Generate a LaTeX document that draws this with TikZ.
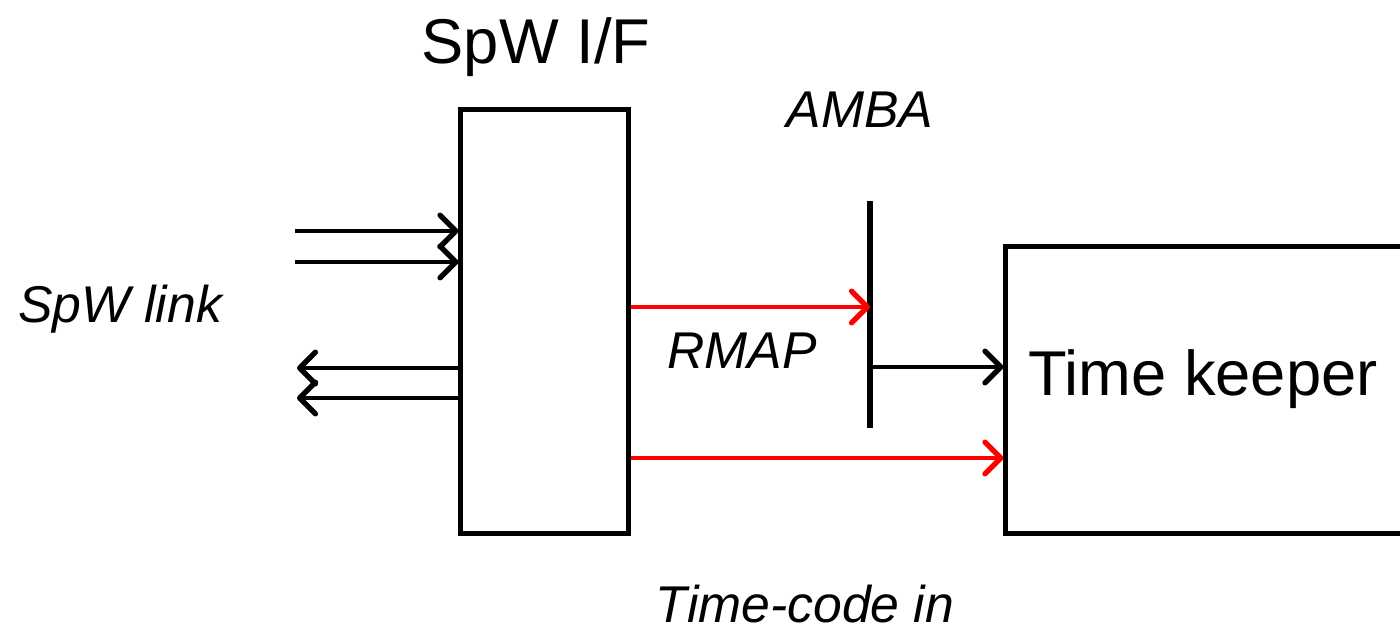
\documentclass[tikz,border=0pt]{standalone}
\usepackage{fontspec}
\setmainfont{Liberation Sans}
\usetikzlibrary{arrows.meta}
\definecolor{rmapred}{RGB}{255,0,0}
\tikzset{tkdiag/.style={x=0.01cm,y=-0.01cm},
  blk/.style={draw,line width=1.4pt,inner sep=0pt},
  lnk/.style={line width=1.3pt,-{Straight Barb[length=4.5pt,width=9pt,line width=1.5pt,round]}},
  bus/.style={line width=1.7pt},
  big/.style={font=\fontsize{18}{21}\selectfont,anchor=base},
  lbl/.style={font=\fontsize{14.7}{17}\selectfont\itshape,anchor=base}}

\begin{document}
\begin{tikzpicture}[tkdiag]
    \useasboundingbox (0,0) rectangle (1400,630);
    % blocks
    \node[blk,minimum width=1.67cm,minimum height=4.23cm] (spwif) at (544.5,321.5) {};
    \node[blk,minimum width=3.97cm,minimum height=2.86cm] (tk) at (1204.5,390) {};
    \node[big] (spwiflbl) at (536,63) {SpW I/F};
    \node[big] (tklbl) at (1203,395) {Time keeper};
    % AMBA bus
    \coordinate (ambatop) at (870,201);
    \coordinate (ambabot) at (870,428);
    \draw[bus] (ambatop) -- (ambabot);
    % SpW link
    \coordinate (in1) at (295,231);
    \coordinate (in2) at (295,262);
    \coordinate (out1) at (297,368);
    \coordinate (out2) at (297,398);
    \draw[lnk] (in1) -- (in1 -| spwif.west);
    \draw[lnk] (in2) -- (in2 -| spwif.west);
    \draw[lnk] (out1 -| spwif.west) -- (out1);
    \draw[lnk] (out2 -| spwif.west) -- (out2);
    % RMAP, bus and time-codes
    \draw[lnk,rmapred] (spwif.east |- 0,307) -- (ambatop |- 0,307);
    \draw[lnk] (ambatop |- 0,367) -- (tk.west |- 0,367);
    \draw[lnk,rmapred] (spwif.east |- 0,458) -- (tk.west |- 0,458);
    % labels
    \node[lbl] (ambalbl) at (860,127) {AMBA};
    \node[lbl] (linklbl) at (120,322) {SpW link};
    \node[lbl] (rmaplbl) at (742,368) {RMAP};
    \node[lbl] (tclbl) at (805,622) {Time-code in};
\end{tikzpicture}
\end{document}
